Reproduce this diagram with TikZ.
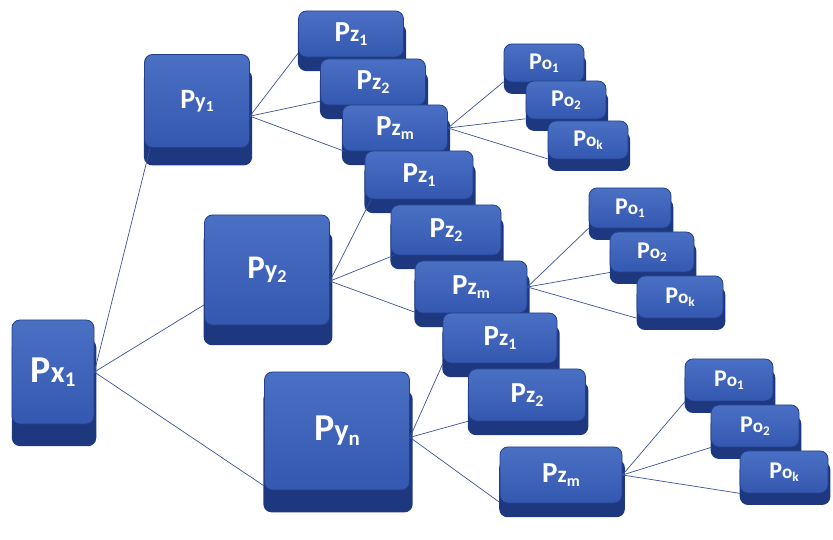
\documentclass[tikz,border=0pt]{standalone}
\usepackage{fontspec}
\setmainfont{Carlito}
\usepackage{graphicx}
\usepackage{xcolor}
\usepackage{tikz}
\usetikzlibrary{shapes}
\usetikzlibrary{shadows}
\definecolor{keytop}{RGB}{74,112,196}
\definecolor{keyface}{RGB}{52,88,176}
\definecolor{keyedge}{RGB}{36,64,140}
\definecolor{keyside}{RGB}{30,56,128}
\definecolor{linkblue}{RGB}{58,82,156}
\newcommand{\plbl}[2]{P\scalebox{0.8}{#1}\raisebox{-0.12em}{\scalebox{0.55}{#2}}}
\tikzset{ key_box/.style = {rectangle, rounded corners=8pt, draw=keyedge, line width=0.8pt, top color=keytop, bottom color=keyface, text=white, inner sep=0pt, general shadow={fill=keyside, shadow scale=1.03, shadow xshift=1pt, shadow yshift=-#1}} }
\tikzset{ key_box/.default=12pt }
\tikzset{ z_box/.style = {key_box=13pt, minimum width=105, minimum height=46, font=\bfseries\fontsize{29}{29}\selectfont} }
\tikzset{ o_box/.style = {key_box=11pt, minimum width=80, minimum height=38, font=\bfseries\fontsize{24}{24}\selectfont} }
\tikzset{ link/.style = {draw=linkblue, line width=0.7pt} }

\begin{document}
\begin{tikzpicture}[x=1pt,y=1pt]
            \useasboundingbox (0,0) rectangle (833,540);
            \node [key_box=20pt, minimum width=82, minimum height=104, font=\bfseries\fontsize{38}{38}\selectfont] (x1) at (53,168) {\plbl{x}{1}};
            \node [key_box=16pt, minimum width=105, minimum height=93, font=\bfseries\fontsize{28}{28}\selectfont] (y1) at (197,439) {\plbl{y}{1}};
            \node [key_box=18pt, minimum width=125, minimum height=110, font=\bfseries\fontsize{33}{33}\selectfont] (y2) at (267,270) {\plbl{y}{2}};
            \node [key_box=20pt, minimum width=145, minimum height=118, font=\bfseries\fontsize{38}{38}\selectfont] (yn) at (337,109) {\plbl{y}{n}};
            % first branch
            \node [style=z_box] (z11) at (351,506) {\plbl{z}{1}};
            \node [style=z_box] (z12) at (373,458) {\plbl{z}{2}};
            \node [style=z_box] (z1m) at (395,412) {\plbl{z}{m}};
            \node [style=o_box] (o11) at (544,477) {\plbl{o}{1}};
            \node [style=o_box] (o12) at (566,440) {\plbl{o}{2}};
            \node [style=o_box] (o1k) at (588,400) {\plbl{o}{k}};
            % second branch
            \node [style=z_box, minimum width=108, minimum height=48] (z21) at (419,365) {\plbl{z}{1}};
            \node [style=z_box, minimum width=110, minimum height=50] (z22) at (446,310) {\plbl{z}{2}};
            \node [style=z_box, minimum width=112, minimum height=52] (z2m) at (471,253) {\plbl{z}{m}};
            \node [style=o_box, minimum width=82, minimum height=40] (o21) at (630,332) {\plbl{o}{1}};
            \node [style=o_box, minimum width=84, minimum height=40] (o22) at (652,288) {\plbl{o}{2}};
            \node [style=o_box, minimum width=86, minimum height=42] (o2k) at (680,243) {\plbl{o}{k}};
            % third branch
            \node [style=z_box, minimum width=114, minimum height=50] (z31) at (500,202) {\plbl{z}{1}};
            \node [style=z_box, minimum width=117, minimum height=52] (z32) at (527,145) {\plbl{z}{2}};
            \node [style=z_box, minimum width=122, minimum height=56] (z3m) at (561,65) {\plbl{z}{m}};
            \node [style=o_box, minimum width=88, minimum height=42] (o31) at (729,160) {\plbl{o}{1}};
            \node [style=o_box, minimum width=88, minimum height=42] (o32) at (755,114) {\plbl{o}{2}};
            \node [style=o_box, minimum width=88, minimum height=42] (o3k) at (784,68) {\plbl{o}{k}};
            % links
            \draw [style=link] (x1.east) to (y1.225);
            \draw [style=link] (x1.east) to (y2.209);
            \draw [style=link] (x1.east) to (yn.217);
            \draw [style=link] (y1.-16) to (z11.200);
            \draw [style=link] (y1.-16) to (z12.200);
            \draw [style=link] (y1.-16) to (z1m.205);
            \draw [style=link] (z1m.east) to (o11.205);
            \draw [style=link] (z1m.east) to (o12.205);
            \draw [style=link] (z1m.east) to (o1k.205);
            \draw [style=link] (y2.-10) to (z21.207);
            \draw [style=link] (y2.-10) to (z22.206);
            \draw [style=link] (y2.-10) to (z2m.204);
            \draw [style=link] (z2m.east) to (o21.206);
            \draw [style=link] (z2m.east) to (o22.206);
            \draw [style=link] (z2m.east) to (o2k.206);
            \draw [style=link] (yn.-5) to (z31.204);
            \draw [style=link] (yn.-5) to (z32.204);
            \draw [style=link] (yn.-5) to (z3m.204);
            \draw [style=link] (z3m.east) to (o31.206);
            \draw [style=link] (z3m.east) to (o32.206);
            \draw [style=link] (z3m.east) to (o3k.206);
    \end{tikzpicture}
\end{document}
